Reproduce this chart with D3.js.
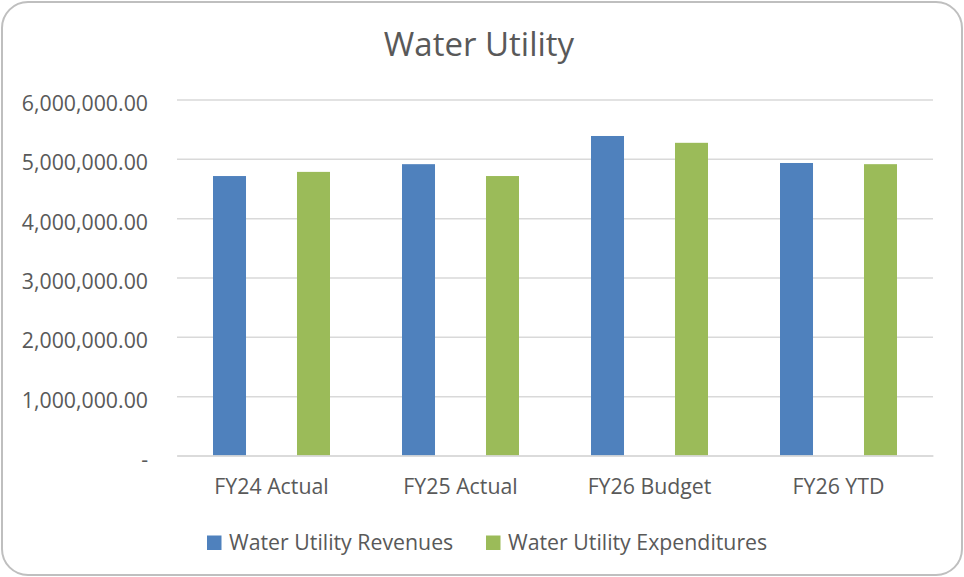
<!DOCTYPE html>
<html>
<head>
<meta charset="utf-8">
<script src="https://cdn.jsdelivr.net/npm/d3@7"></script>
<style>
  body { margin: 0; background: #fff; }
  text { font-family: "Open Sans", "Noto Sans", sans-serif; fill: #595959; }
</style>
</head>
<body>
<svg id="drawing_region"></svg>
<script>
const categories = ["FY24 Actual", "FY25 Actual", "FY26 Budget", "FY26 YTD"];
const seriesNames = ["Water Utility Revenues", "Water Utility Expenditures"];
const revenues = [4710000, 4910000, 5385000, 4930000];
const expenditures = [4780000, 4710000, 5270000, 4910000];
const yTicks = [0, 1000000, 2000000, 3000000, 4000000, 5000000, 6000000];
const yTickLabels = ["-", "1,000,000.00", "2,000,000.00", "3,000,000.00", "4,000,000.00", "5,000,000.00", "6,000,000.00"];
const colors = ["#4f81bd", "#9bbb59"];

const config = {
    width: 964,
    height: 577,
    margin: {top: 99.5, right: 31, bottom: 121.5, left: 177}
};

const data = categories.map((c, i) => ({label: c, values: [revenues[i], expenditures[i]]}));

const svg = d3.select("#drawing_region")
    .attr("width", config.width)
    .attr("height", config.height);

// chart border
svg.append("rect")
    .attr("x", 2).attr("y", 2)
    .attr("width", config.width - 4).attr("height", config.height - 4)
    .attr("rx", 26).attr("ry", 26)
    .attr("fill", "#fff")
    .attr("stroke", "#bfbfbf")
    .attr("stroke-width", 2);

const inner_width = config.width - config.margin.left - config.margin.right;
const inner_height = config.height - config.margin.top - config.margin.bottom;

const chart = svg.append("g")
    .attr("transform", `translate(${config.margin.left}, ${config.margin.top})`);

const x0 = d3.scaleBand()
    .domain(categories)
    .range([0, inner_width])
    .padding(0);

const x1 = d3.scaleBand()
    .domain([0, 1])
    .range([0, x0.bandwidth()])
    .paddingInner(0.607)
    .paddingOuter(0.4286);

const yscale = d3.scaleLinear()
    .domain([0, 6000000])
    .range([inner_height, 0]);

// gridlines
const grid = chart.append("g")
    .call(d3.axisLeft(yscale).tickValues(yTicks).tickSize(-inner_width).tickFormat(""));
grid.select(".domain").remove();
grid.selectAll("line").attr("stroke", "#d9d9d9").attr("stroke-width", 1.5);

// bars
chart.selectAll(".cat")
    .data(data)
    .enter()
    .append("g")
    .attr("transform", d => `translate(${x0(d.label)}, 0)`)
    .selectAll("rect")
    .data(d => d.values.map((v, k) => ({k: k, v: v})))
    .enter()
    .append("rect")
    .attr("x", d => x1(d.k))
    .attr("y", d => yscale(d.v))
    .attr("width", x1.bandwidth())
    .attr("height", d => inner_height - yscale(d.v))
    .attr("fill", d => colors[d.k]);

// y axis labels
const yaxis_group = chart.append("g")
    .call(d3.axisLeft(yscale).tickValues(yTicks)
        .tickFormat((d, i) => yTickLabels[i])
        .tickSize(0).tickPadding(29));
yaxis_group.select(".domain").remove();
yaxis_group.selectAll("text")
    .attr("font-size", 21.3)
    .attr("dy", "0.52em")
    .style("font-family", "'Open Sans', sans-serif")
    .attr("fill", "#595959");

// x axis
const xaxis_group = chart.append("g")
    .attr("transform", `translate(0, ${inner_height})`)
    .call(d3.axisBottom(x0).tickSize(0).tickPadding(23));
xaxis_group.select(".domain").attr("stroke", "#d9d9d9").attr("stroke-width", 1.5);
xaxis_group.selectAll("text")
    .attr("font-size", 21.3)
    .style("font-family", "'Open Sans', sans-serif")
    .attr("fill", "#595959");

// title
svg.append("text")
    .attr("x", 479)
    .attr("y", 56)
    .attr("text-anchor", "middle")
    .attr("font-size", 33)
    .text("Water Utility");

// legend
const legendX = [207, 486];
const legend = svg.append("g");
seriesNames.forEach((name, i) => {
    legend.append("rect")
        .attr("x", legendX[i]).attr("y", 535.5)
        .attr("width", 14.5).attr("height", 14.5)
        .attr("fill", colors[i]);
    legend.append("text")
        .attr("x", legendX[i] + 22)
        .attr("y", 550)
        .attr("font-size", 21.3)
        .text(name);
});
</script>
</body>
</html>
